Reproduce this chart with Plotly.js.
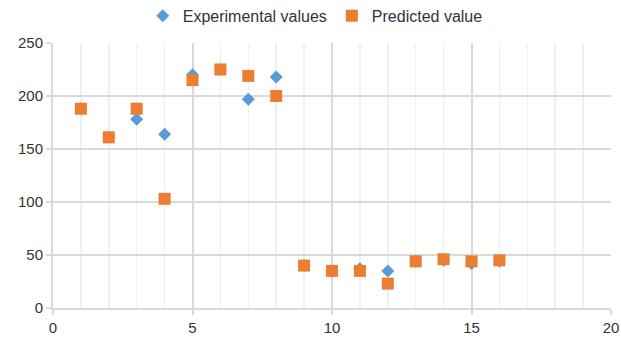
<!DOCTYPE html>
<html>
<head>
<meta charset="utf-8">
<script src="https://cdn.plot.ly/plotly-3.0.1.min.js"></script>
<style>html,body{margin:0;padding:0;background:#fff;}#chart{width:621px;height:339px;}</style>
</head>
<body>
<div id="chart"></div>
<script>
const xValues = [1, 2, 3, 4, 5, 6, 7, 8, 9, 10, 11, 12, 13, 14, 15, 16];
const experimental = [188, 161, 178, 164, 220, 225, 197, 218, 40, 35, 37, 35, 44, 45, 42, 44];
const predicted = [188, 161, 188, 103, 215, 225, 219, 200, 40, 35, 35, 23, 44, 46, 44, 45];
const seriesNames = ["Experimental values", "Predicted value"];

const traces = [
  {x: xValues, y: experimental, name: seriesNames[0], type: "scatter", mode: "markers",
   marker: {symbol: "diamond", size: 10, color: "#5B9BD5"}},
  {x: xValues, y: predicted, name: seriesNames[1], type: "scatter", mode: "markers",
   marker: {symbol: "square", size: 12, color: "#ED7D31"}}
];

const layout = {
  width: 621, height: 339,
  margin: {l: 53, r: 10, t: 43, b: 31},
  paper_bgcolor: "#fff", plot_bgcolor: "#fff",
  font: {family: "Liberation Sans, Arial, sans-serif", size: 15, color: "#333"},
  showlegend: true,
  legend: {orientation: "h", x: 0.47, xanchor: "center", xref: "paper",
           y: 0.953, yanchor: "middle", yref: "container",
           font: {size: 16, color: "#333"}, itemwidth: 30, tracegroupgap: 0},
  xaxis: {range: [0, 20], dtick: 5, tick0: 0, showgrid: true, gridcolor: "#d9d9d9", gridwidth: 2,
          zeroline: false, showline: true, linecolor: "#d9d9d9", linewidth: 2,
          ticks: "outside", ticklen: 5, tickcolor: "#d9d9d9", tickwidth: 2,
          minor: {dtick: 1, showgrid: true, gridcolor: "#efefef", gridwidth: 1.5},
          tickfont: {size: 15, color: "#333"}, fixedrange: true},
  yaxis: {range: [0, 250], dtick: 50, showgrid: true, gridcolor: "#d9d9d9", gridwidth: 2,
          zeroline: false, showline: true, linecolor: "#d9d9d9", linewidth: 2,
          ticks: "outside", ticklen: 5, tickcolor: "#d9d9d9", tickwidth: 2,
          tickfont: {size: 15, color: "#333"}, fixedrange: true}
};

Plotly.newPlot("chart", traces, layout, {displayModeBar: false, staticPlot: true});
</script>
</body>
</html>
